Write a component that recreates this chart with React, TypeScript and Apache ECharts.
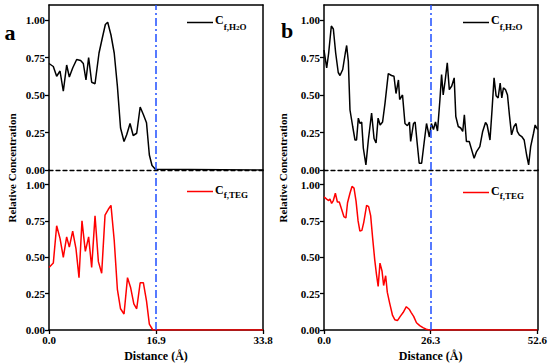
import React, { useEffect, useRef } from "react";
import * as echarts from "echarts";

// Panel a — water (top) and TEG (bottom)
const aWaterX = [0, 0.68, 1.21, 1.74, 2.26, 2.79, 3.21, 3.74, 4.37, 5.0, 5.42, 5.84, 6.26, 6.74, 7.27, 7.9, 8.42, 8.9, 9.27, 9.79, 10.3, 10.8, 11.3, 11.85, 12.27, 12.8, 13.3, 13.85, 14.4, 14.9, 15.4, 15.85, 16.27, 16.8, 33.8];
const aWaterY = [0.71, 0.69, 0.625, 0.66, 0.525, 0.7, 0.62, 0.68, 0.737, 0.73, 0.71, 0.6, 0.75, 0.585, 0.575, 0.78, 0.88, 0.97, 0.985, 0.9, 0.78, 0.56, 0.28, 0.19, 0.235, 0.31, 0.23, 0.245, 0.42, 0.37, 0.315, 0.1, 0.03, 0.005, 0];
const aTegX = [0, 0.68, 1.21, 1.74, 2.26, 2.79, 3.21, 3.74, 4.26, 4.74, 5.21, 5.74, 6.26, 6.74, 7.27, 7.8, 8.32, 8.85, 9.37, 9.79, 10.3, 10.8, 11.3, 11.85, 12.4, 12.9, 13.4, 13.85, 14.4, 14.9, 15.4, 15.85, 16.4, 33.8];
const aTegY = [0.43, 0.46, 0.717, 0.63, 0.5, 0.64, 0.57, 0.68, 0.56, 0.36, 0.75, 0.54, 0.64, 0.43, 0.785, 0.47, 0.39, 0.79, 0.83, 0.857, 0.617, 0.28, 0.146, 0.11, 0.36, 0.29, 0.18, 0.146, 0.325, 0.325, 0.2, 0.04, 0, 0];

// Panel b — water (top) and TEG (bottom)
const bWaterX = [0, 0.66, 1.15, 1.8, 2.3, 2.87, 3.5, 3.93, 4.6, 5.24, 5.57, 5.98, 6.39, 7.05, 7.62, 8.0, 8.44, 8.85, 9.26, 9.67, 10.3, 10.9, 11.7, 12.3, 12.8, 13.3, 13.8, 14.4, 15.0, 15.8, 16.6, 17.2, 17.7, 18.3, 18.6, 19.3, 19.9, 20.5, 21.0, 21.3, 22.0, 22.4, 22.9, 23.4, 24.0, 24.6, 25.2, 25.9, 26.4, 26.9, 27.4, 27.9, 28.5, 28.9, 29.3, 29.8, 30.3, 30.8, 31.4, 32.0, 32.4, 33.0, 33.6, 34.1, 34.5, 35.0, 35.7, 36.3, 36.9, 37.5, 38.3, 39.0, 39.7, 40.1, 40.8, 41.3, 41.8, 42.3, 42.8, 43.3, 43.7, 44.1, 44.6, 45.1, 45.6, 46.1, 46.7, 47.2, 47.5, 48.0, 48.6, 49.2, 49.8, 50.3, 50.8, 51.5, 51.9, 52.5];
const bWaterY = [0.8, 0.68, 0.78, 0.96, 0.94, 0.78, 0.65, 0.63, 0.67, 0.78, 0.83, 0.725, 0.4, 0.29, 0.2, 0.2, 0.346, 0.31, 0.32, 0.145, 0.034, 0.2, 0.38, 0.21, 0.18, 0.346, 0.3, 0.32, 0.446, 0.643, 0.63, 0.625, 0.51, 0.6, 0.47, 0.5, 0.31, 0.295, 0.32, 0.19, 0.31, 0.32, 0.18, 0.045, 0.045, 0.18, 0.31, 0.22, 0.31, 0.27, 0.32, 0.26, 0.47, 0.636, 0.5, 0.6, 0.714, 0.536, 0.56, 0.614, 0.357, 0.29, 0.28, 0.257, 0.368, 0.19, 0.19, 0.134, 0.078, 0.123, 0.156, 0.257, 0.317, 0.3, 0.2, 0.4, 0.614, 0.495, 0.48, 0.58, 0.48, 0.547, 0.536, 0.5, 0.36, 0.234, 0.29, 0.31, 0.257, 0.234, 0.223, 0.2, 0.1, 0.034, 0.156, 0.245, 0.3, 0.27];
const bTegX = [0, 0.66, 1.15, 1.47, 1.88, 2.3, 2.8, 3.3, 3.77, 4.34, 4.9, 5.4, 5.8, 6.4, 6.9, 7.4, 7.9, 8.4, 8.85, 9.34, 9.8, 10.5, 11.0, 11.5, 12.0, 12.5, 12.9, 13.35, 13.8, 14.3, 14.7, 15.2, 15.6, 16.2, 16.9, 17.45, 18.1, 18.8, 19.5, 20.3, 21.0, 21.5, 22.1, 22.8, 23.6, 24.4, 25.2, 26.0, 52.6];
const bTegY = [0.915, 0.9, 0.89, 0.9, 0.87, 0.89, 0.94, 0.88, 0.88, 0.83, 0.78, 0.77, 0.875, 0.94, 0.987, 0.975, 0.886, 0.75, 0.68, 0.685, 0.74, 0.857, 0.848, 0.786, 0.63, 0.484, 0.39, 0.3, 0.46, 0.406, 0.306, 0.373, 0.26, 0.183, 0.1, 0.071, 0.065, 0.094, 0.12, 0.16, 0.143, 0.12, 0.094, 0.05, 0.03, 0.016, 0.005, 0, 0];

const yTicks = [0, 0.25, 0.5, 0.75, 1.0];
const xMaxA = 33.8;
const xMaxB = 52.6;
const boundaryA = 16.9;
const boundaryB = 26.3;

const FONT = "'Liberation Serif', 'Times New Roman', 'DejaVu Serif', serif";
const zip = (xs: number[], ys: number[]) => xs.map((x, i) => [x, ys[i]]);

export default function App() {
  const ref = useRef<HTMLDivElement>(null);
  useEffect(() => {
    const chart = echarts.init(ref.current!, undefined, { renderer: "svg" });
    const grids = [
      { left: 49, width: 214, top: 5, height: 165 },
      { left: 49, width: 214, top: 170, height: 163 },
      { left: 324, width: 214, top: 5, height: 165 },
      { left: 324, width: 214, top: 170, height: 163 },
    ];
    const maxes = [xMaxA, xMaxA, xMaxB, xMaxB];
    const axisLine = { lineStyle: { color: "#000", width: 1.5 } };
    const xAxis: any[] = [];
    const yAxis: any[] = [];
    grids.forEach((g, i) => {
      const isTop = i % 2 === 0;
      const mx = maxes[i];
      xAxis.push({
        gridIndex: i,
        type: "value",
        position: "bottom",
        min: 0,
        max: mx,
        interval: mx / 2,
        splitLine: { show: false },
        axisLine: isTop
          ? { onZero: false, lineStyle: { color: "#000", width: 1.3, type: [4, 3] } }
          : { onZero: false, ...axisLine },
        axisTick: { show: !isTop, length: 4, inside: false, lineStyle: { color: "#000", width: 1.3 } },
        axisLabel: {
          show: !isTop,
          margin: 4,
          color: "#000",
          fontFamily: FONT,
          fontWeight: "bold",
          fontSize: 11,
          formatter: (v: number) => v.toFixed(1),
        },
        name: isTop ? "" : "Distance (Å)",
        nameLocation: "middle",
        nameGap: 20,
        nameTextStyle: { color: "#000", fontFamily: FONT, fontWeight: "bold", fontSize: 12 },
      });
      xAxis.push({
        gridIndex: i,
        type: "value",
        position: "top",
        min: 0,
        max: mx,
        show: isTop,
        splitLine: { show: false },
        axisLine: { onZero: false, ...axisLine },
        axisTick: { show: false },
        axisLabel: { show: false },
      });
      yAxis.push({
        gridIndex: i,
        type: "value",
        position: "left",
        min: 0,
        max: 1.1,
        interval: 0.25,
        splitLine: { show: false },
        axisLine: { show: true, onZero: false, ...axisLine },
        axisTick: { show: true, length: 4, customValues: yTicks, lineStyle: { color: "#000", width: 1.3 } },
        axisLabel: {
          customValues: yTicks,
          margin: 4,
          color: "#000",
          fontFamily: FONT,
          fontWeight: "bold",
          fontSize: 11,
          formatter: (v: number) => (Math.abs(v * 4 - Math.round(v * 4)) < 1e-6 && v <= 1 ? v.toFixed(2) : ""),
        },
      });
      yAxis.push({
        gridIndex: i,
        type: "value",
        position: "right",
        min: 0,
        max: 1.1,
        splitLine: { show: false },
        axisLine: { show: true, onZero: false, ...axisLine },
        axisTick: { show: false },
        axisLabel: { show: false },
      });
    });

    const mark = (x: number) => ({
      silent: true,
      symbol: "none",
      label: { show: false },
      lineStyle: { color: "#1f4fff", width: 1.5, type: [8, 3, 2, 3] },
      data: [{ xAxis: x }],
    });

    const seriesData = [
      { name: "aH2O", data: zip(aWaterX, aWaterY), color: "#000", b: boundaryA },
      { name: "aTEG", data: zip(aTegX, aTegY), color: "#ff0000", b: boundaryA },
      { name: "bH2O", data: zip(bWaterX, bWaterY), color: "#000", b: boundaryB },
      { name: "bTEG", data: zip(bTegX, bTegY), color: "#ff0000", b: boundaryB },
    ];
    const series = seriesData.map((s, i) => ({
      type: "line",
      name: s.name,
      xAxisIndex: i * 2,
      yAxisIndex: i * 2,
      data: s.data,
      symbol: "none",
      lineStyle: { color: s.color, width: 1.5 },
      itemStyle: { color: s.color },
      markLine: mark(s.b),
      z: 3,
    }));

    const rich = {
      c: { fontFamily: FONT, fontWeight: "bold", fontSize: 12, lineHeight: 12, verticalAlign: "top", color: "#000" },
      s: { fontFamily: FONT, fontWeight: "bold", fontSize: 9, lineHeight: 15, verticalAlign: "bottom", color: "#000" },
      ss: { fontFamily: FONT, fontWeight: "bold", fontSize: 7, lineHeight: 17, verticalAlign: "bottom", color: "#000" },
    };
    const legendText: Record<string, string> = {
      aH2O: "{c|C}{s|f,H}{ss|2}{s|O}",
      bH2O: "{c|C}{s|f,H}{ss|2}{s|O}",
      aTEG: "{c|C}{s|f,TEG}",
      bTEG: "{c|C}{s|f,TEG}",
    };
    const legendPos = [
      { name: "aH2O", left: 187, top: 14 },
      { name: "aTEG", left: 187, top: 184 },
      { name: "bH2O", left: 463, top: 14 },
      { name: "bTEG", left: 463, top: 185 },
    ];
    const legend = legendPos.map((l) => ({
      data: [l.name],
      left: l.left,
      top: l.top,
      padding: 0,
      itemWidth: 26,
      itemHeight: 10,
      itemGap: 2,
      icon: "path://M0,0 L26,0 L26,1.5 L0,1.5 Z",
      formatter: (n: string) => legendText[n],
      textStyle: { rich, padding: [0, 0, 0, -3] },
      selectedMode: false,
    }));

    const yTitle = (x: number) => ({
      type: "text",
      x,
      y: 168,
      rotation: Math.PI / 2,
      style: {
        text: "Relative Concentration",
        textAlign: "center",
        textVerticalAlign: "middle",
        fontFamily: FONT,
        fontWeight: "bold",
        fontSize: 11,
        fill: "#000",
      },
    });
    const letter = (t: string, x: number, y: number) => ({
      type: "text",
      x,
      y,
      style: { text: t, textAlign: "center", textVerticalAlign: "middle", fontFamily: FONT, fontWeight: "bold", fontSize: 22, fill: "#000" },
    });

    chart.setOption({
      animation: false,
      grid: grids,
      xAxis,
      yAxis,
      series,
      legend,
      graphic: [yTitle(12), yTitle(283), letter("a", 10, 32), letter("b", 287, 30)],
    });
    return () => chart.dispose();
  }, []);
  return <div ref={ref} style={{ width: 550, height: 363, position: "absolute", left: 0, top: 0 }} />;
}
